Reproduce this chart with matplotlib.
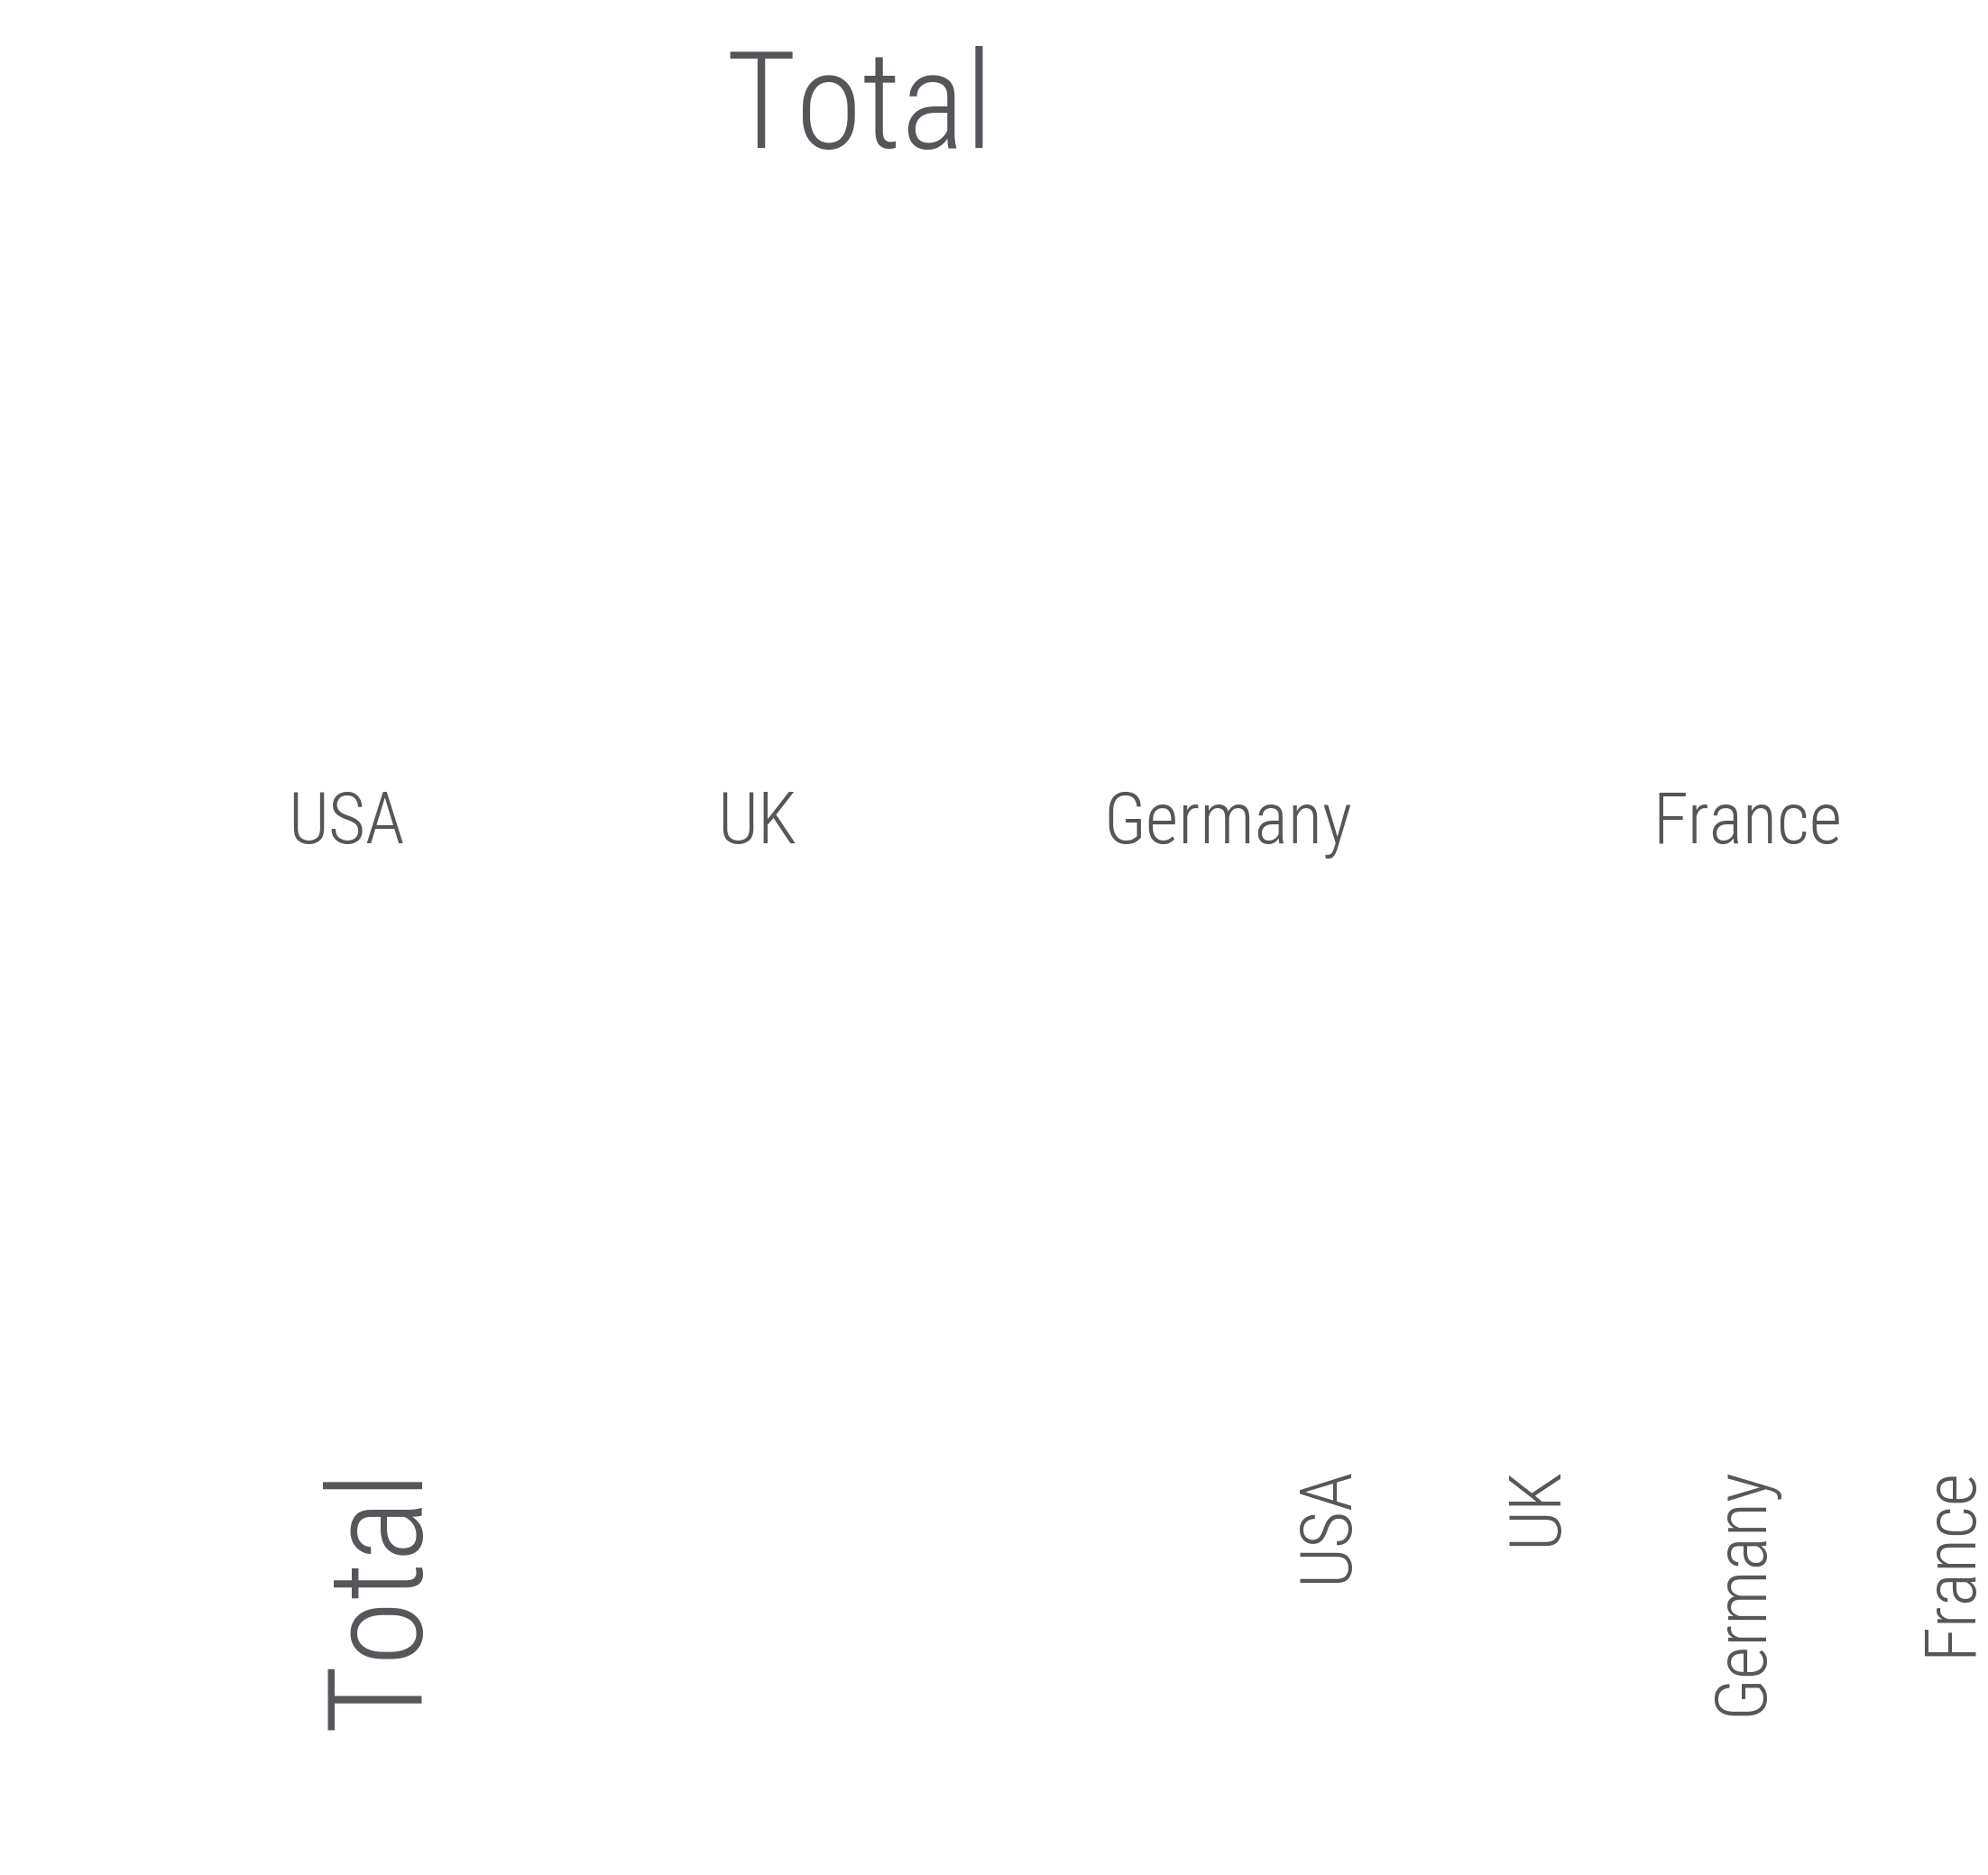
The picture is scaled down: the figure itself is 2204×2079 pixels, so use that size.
import matplotlib
matplotlib.use("Agg")
import matplotlib.pyplot as plt

# header and category labels
header = "Total"
countries = ["USA", "UK", "Germany", "France"]

W, H = 2204, 2079
DPI = 100
text_colour = "#55555a"
fonts = ["Roboto Condensed", "Liberation Sans Narrow", "Liberation Sans"]
weight = "light"

fig = plt.figure(figsize=(W / DPI, H / DPI), dpi=DPI)
fig.patch.set_facecolor("white")


def px(x, y):
    # pixel position (from top-left) to figure fraction
    return x / W, 1 - y / H


# top block: header over a row of column labels
fig.text(*px(953, 164), header, ha="center", va="baseline",
         fontsize=108, color=text_colour, family=fonts, weight=weight)
row_centres = [384, 839, 1361, 1937]
for name, cx in zip(countries, row_centres):
    fig.text(*px(cx, 935), name, ha="center", va="baseline",
             fontsize=57, color=text_colour, family=fonts, weight=weight)

# bottom block: the same labels turned on their side
fig.text(*px(464, 1772), header, ha="center", va="baseline",
         rotation=90, rotation_mode="anchor",
         fontsize=106, color=text_colour, family=fonts, weight=weight)
col_base = [1493, 1725, 1953, 2184]
for name, bx in zip(countries, col_base):
    fig.text(*px(bx, 1626), name, ha="right", va="baseline",
             rotation=90, rotation_mode="anchor",
             fontsize=57, color=text_colour, family=fonts, weight=weight)

fig.savefig("out.png", dpi=DPI, facecolor="white")
